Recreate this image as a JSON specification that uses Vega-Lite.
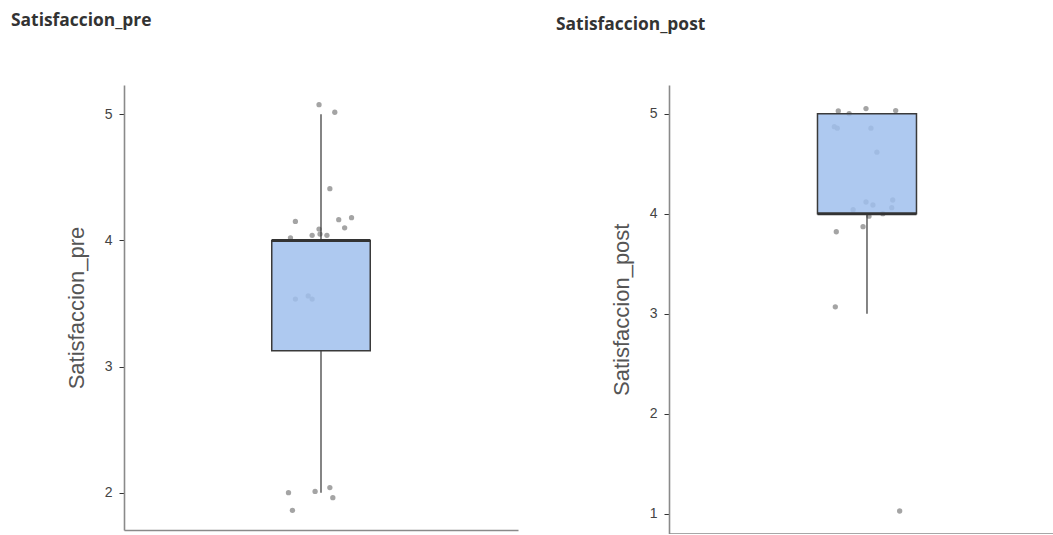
{
  "$schema": "https://vega.github.io/schema/vega-lite/v6.json",
  "padding": {"left": 11, "top": 11, "right": 0, "bottom": 0},
  "background": "white",
  "datasets": {
    "pre": [
      {"value": 5.076, "jitter": -0.02}, {"value": 5.016, "jitter": 0.14}, {"value": 4.41, "jitter": 0.09},
      {"value": 4.15, "jitter": -0.26}, {"value": 4.164, "jitter": 0.18}, {"value": 4.18, "jitter": 0.31},
      {"value": 4.10, "jitter": 0.24}, {"value": 4.09, "jitter": -0.02}, {"value": 4.02, "jitter": -0.31},
      {"value": 4.04, "jitter": -0.09}, {"value": 4.04, "jitter": 0.06}, {"value": 4.05, "jitter": -0.01},
      {"value": 3.535, "jitter": -0.26}, {"value": 3.56, "jitter": -0.13}, {"value": 3.535, "jitter": -0.09},
      {"value": 2.00, "jitter": -0.33}, {"value": 2.01, "jitter": -0.06}, {"value": 2.04, "jitter": 0.09},
      {"value": 1.96, "jitter": 0.12}, {"value": 1.86, "jitter": -0.29}
    ],
    "post": [
      {"value": 5.027, "jitter": -0.29}, {"value": 5.00, "jitter": -0.18}, {"value": 5.05, "jitter": -0.01},
      {"value": 5.03, "jitter": 0.29}, {"value": 4.87, "jitter": -0.33}, {"value": 4.855, "jitter": -0.30},
      {"value": 4.855, "jitter": 0.04}, {"value": 4.615, "jitter": 0.10}, {"value": 4.117, "jitter": -0.01},
      {"value": 4.087, "jitter": 0.06}, {"value": 4.137, "jitter": 0.26}, {"value": 4.06, "jitter": 0.25},
      {"value": 4.04, "jitter": -0.14}, {"value": 3.975, "jitter": 0.02}, {"value": 4.00, "jitter": 0.16},
      {"value": 3.87, "jitter": -0.04}, {"value": 3.82, "jitter": -0.31}, {"value": 3.07, "jitter": -0.32},
      {"value": 1.03, "jitter": 0.33}
    ],
    "statsPre": [{"lower": 2, "q1": 3.125, "median": 4, "q3": 4, "upper": 5}],
    "statsPost": [{"lower": 3, "q1": 4, "median": 4, "q3": 5, "upper": 5}]
  },
  "spacing": 38,
  "hconcat": [
    {
      "title": {"text": "Satisfaccion_pre"},
      "width": 394,
      "height": 445,
      "layer": [
        {
          "data": {"name": "pre"},
          "mark": {"type": "point", "filled": true, "size": 28, "color": "#9a9a9a", "opacity": 0.9},
          "encoding": {
            "x": {"field": "jitter", "type": "quantitative", "scale": {"domain": [-2, 2], "nice": false}, "axis": {"title": null, "labels": false, "ticks": false, "grid": false}},
            "y": {"field": "value", "type": "quantitative", "scale": {"domain": [1.704, 5.232], "nice": false, "zero": false}, "axis": {"title": "Satisfaccion_pre", "values": [2, 3, 4, 5], "format": "d", "grid": false}}
          }
        },
        {
          "data": {"name": "statsPre"},
          "mark": {"type": "rule", "color": "#333333", "strokeWidth": 1.2},
          "encoding": {"x": {"datum": 0, "type": "quantitative"}, "y": {"field": "lower", "type": "quantitative"}, "y2": {"field": "q1"}}
        },
        {
          "data": {"name": "statsPre"},
          "mark": {"type": "rule", "color": "#333333", "strokeWidth": 1.2},
          "encoding": {"x": {"datum": 0, "type": "quantitative"}, "y": {"field": "q3", "type": "quantitative"}, "y2": {"field": "upper"}}
        },
        {
          "data": {"name": "statsPre"},
          "mark": {"type": "rect", "fill": "#a0bfed", "fillOpacity": 0.85, "stroke": "#3a3a3a", "strokeWidth": 1.5},
          "encoding": {"x": {"datum": -0.5, "type": "quantitative"}, "x2": {"datum": 0.5}, "y": {"field": "q1", "type": "quantitative"}, "y2": {"field": "q3"}}
        },
        {
          "data": {"name": "statsPre"},
          "mark": {"type": "rule", "color": "#333333", "strokeWidth": 3},
          "encoding": {"x": {"datum": -0.5, "type": "quantitative"}, "x2": {"datum": 0.5}, "y": {"field": "median", "type": "quantitative"}}
        }
      ]
    },
    {
      "title": {"text": "Satisfaccion_post", "dy": 4},
      "width": 384,
      "height": 448.5,
      "layer": [
        {
          "data": {"name": "post"},
          "mark": {"type": "point", "filled": true, "size": 28, "color": "#9a9a9a", "opacity": 0.9},
          "encoding": {
            "x": {"field": "jitter", "type": "quantitative", "scale": {"domain": [-2, 1.879], "nice": false}, "axis": {"title": null, "labels": false, "ticks": false, "grid": false}},
            "y": {"field": "value", "type": "quantitative", "scale": {"domain": [0.805, 5.286], "nice": false, "zero": false}, "axis": {"title": "Satisfaccion_post", "values": [1, 2, 3, 4, 5], "format": "d", "grid": false}}
          }
        },
        {
          "data": {"name": "statsPost"},
          "mark": {"type": "rule", "color": "#333333", "strokeWidth": 1.2},
          "encoding": {"x": {"datum": 0, "type": "quantitative"}, "y": {"field": "lower", "type": "quantitative"}, "y2": {"field": "q1"}}
        },
        {
          "data": {"name": "statsPost"},
          "mark": {"type": "rule", "color": "#333333", "strokeWidth": 1.2},
          "encoding": {"x": {"datum": 0, "type": "quantitative"}, "y": {"field": "q3", "type": "quantitative"}, "y2": {"field": "upper"}}
        },
        {
          "data": {"name": "statsPost"},
          "mark": {"type": "rect", "fill": "#a0bfed", "fillOpacity": 0.85, "stroke": "#3a3a3a", "strokeWidth": 1.5},
          "encoding": {"x": {"datum": -0.5, "type": "quantitative"}, "x2": {"datum": 0.5}, "y": {"field": "q1", "type": "quantitative"}, "y2": {"field": "q3"}}
        },
        {
          "data": {"name": "statsPost"},
          "mark": {"type": "rule", "color": "#333333", "strokeWidth": 3},
          "encoding": {"x": {"datum": -0.5, "type": "quantitative"}, "x2": {"datum": 0.5}, "y": {"field": "median", "type": "quantitative"}}
        }
      ]
    }
  ],
  "resolve": {"scale": {"x": "independent", "y": "independent"}},
  "config": {
    "view": {"stroke": null},
    "axis": {
      "domainColor": "#8a8a8a",
      "domainWidth": 1.6,
      "tickColor": "#333333",
      "tickSize": 5,
      "labelPadding": 7,
      "labelFont": "Liberation Sans",
      "labelFontSize": 14,
      "labelColor": "#444444",
      "titleFont": "Liberation Sans",
      "titleFontSize": 22,
      "titleFontWeight": "normal",
      "titleColor": "#555555",
      "titlePadding": 15.5
    },
    "title": {
      "font": "Open Sans",
      "fontSize": 17.4,
      "fontWeight": "bold",
      "color": "#333333",
      "anchor": "start",
      "frame": "group",
      "dx": -113,
      "offset": 56
    }
  }
}
